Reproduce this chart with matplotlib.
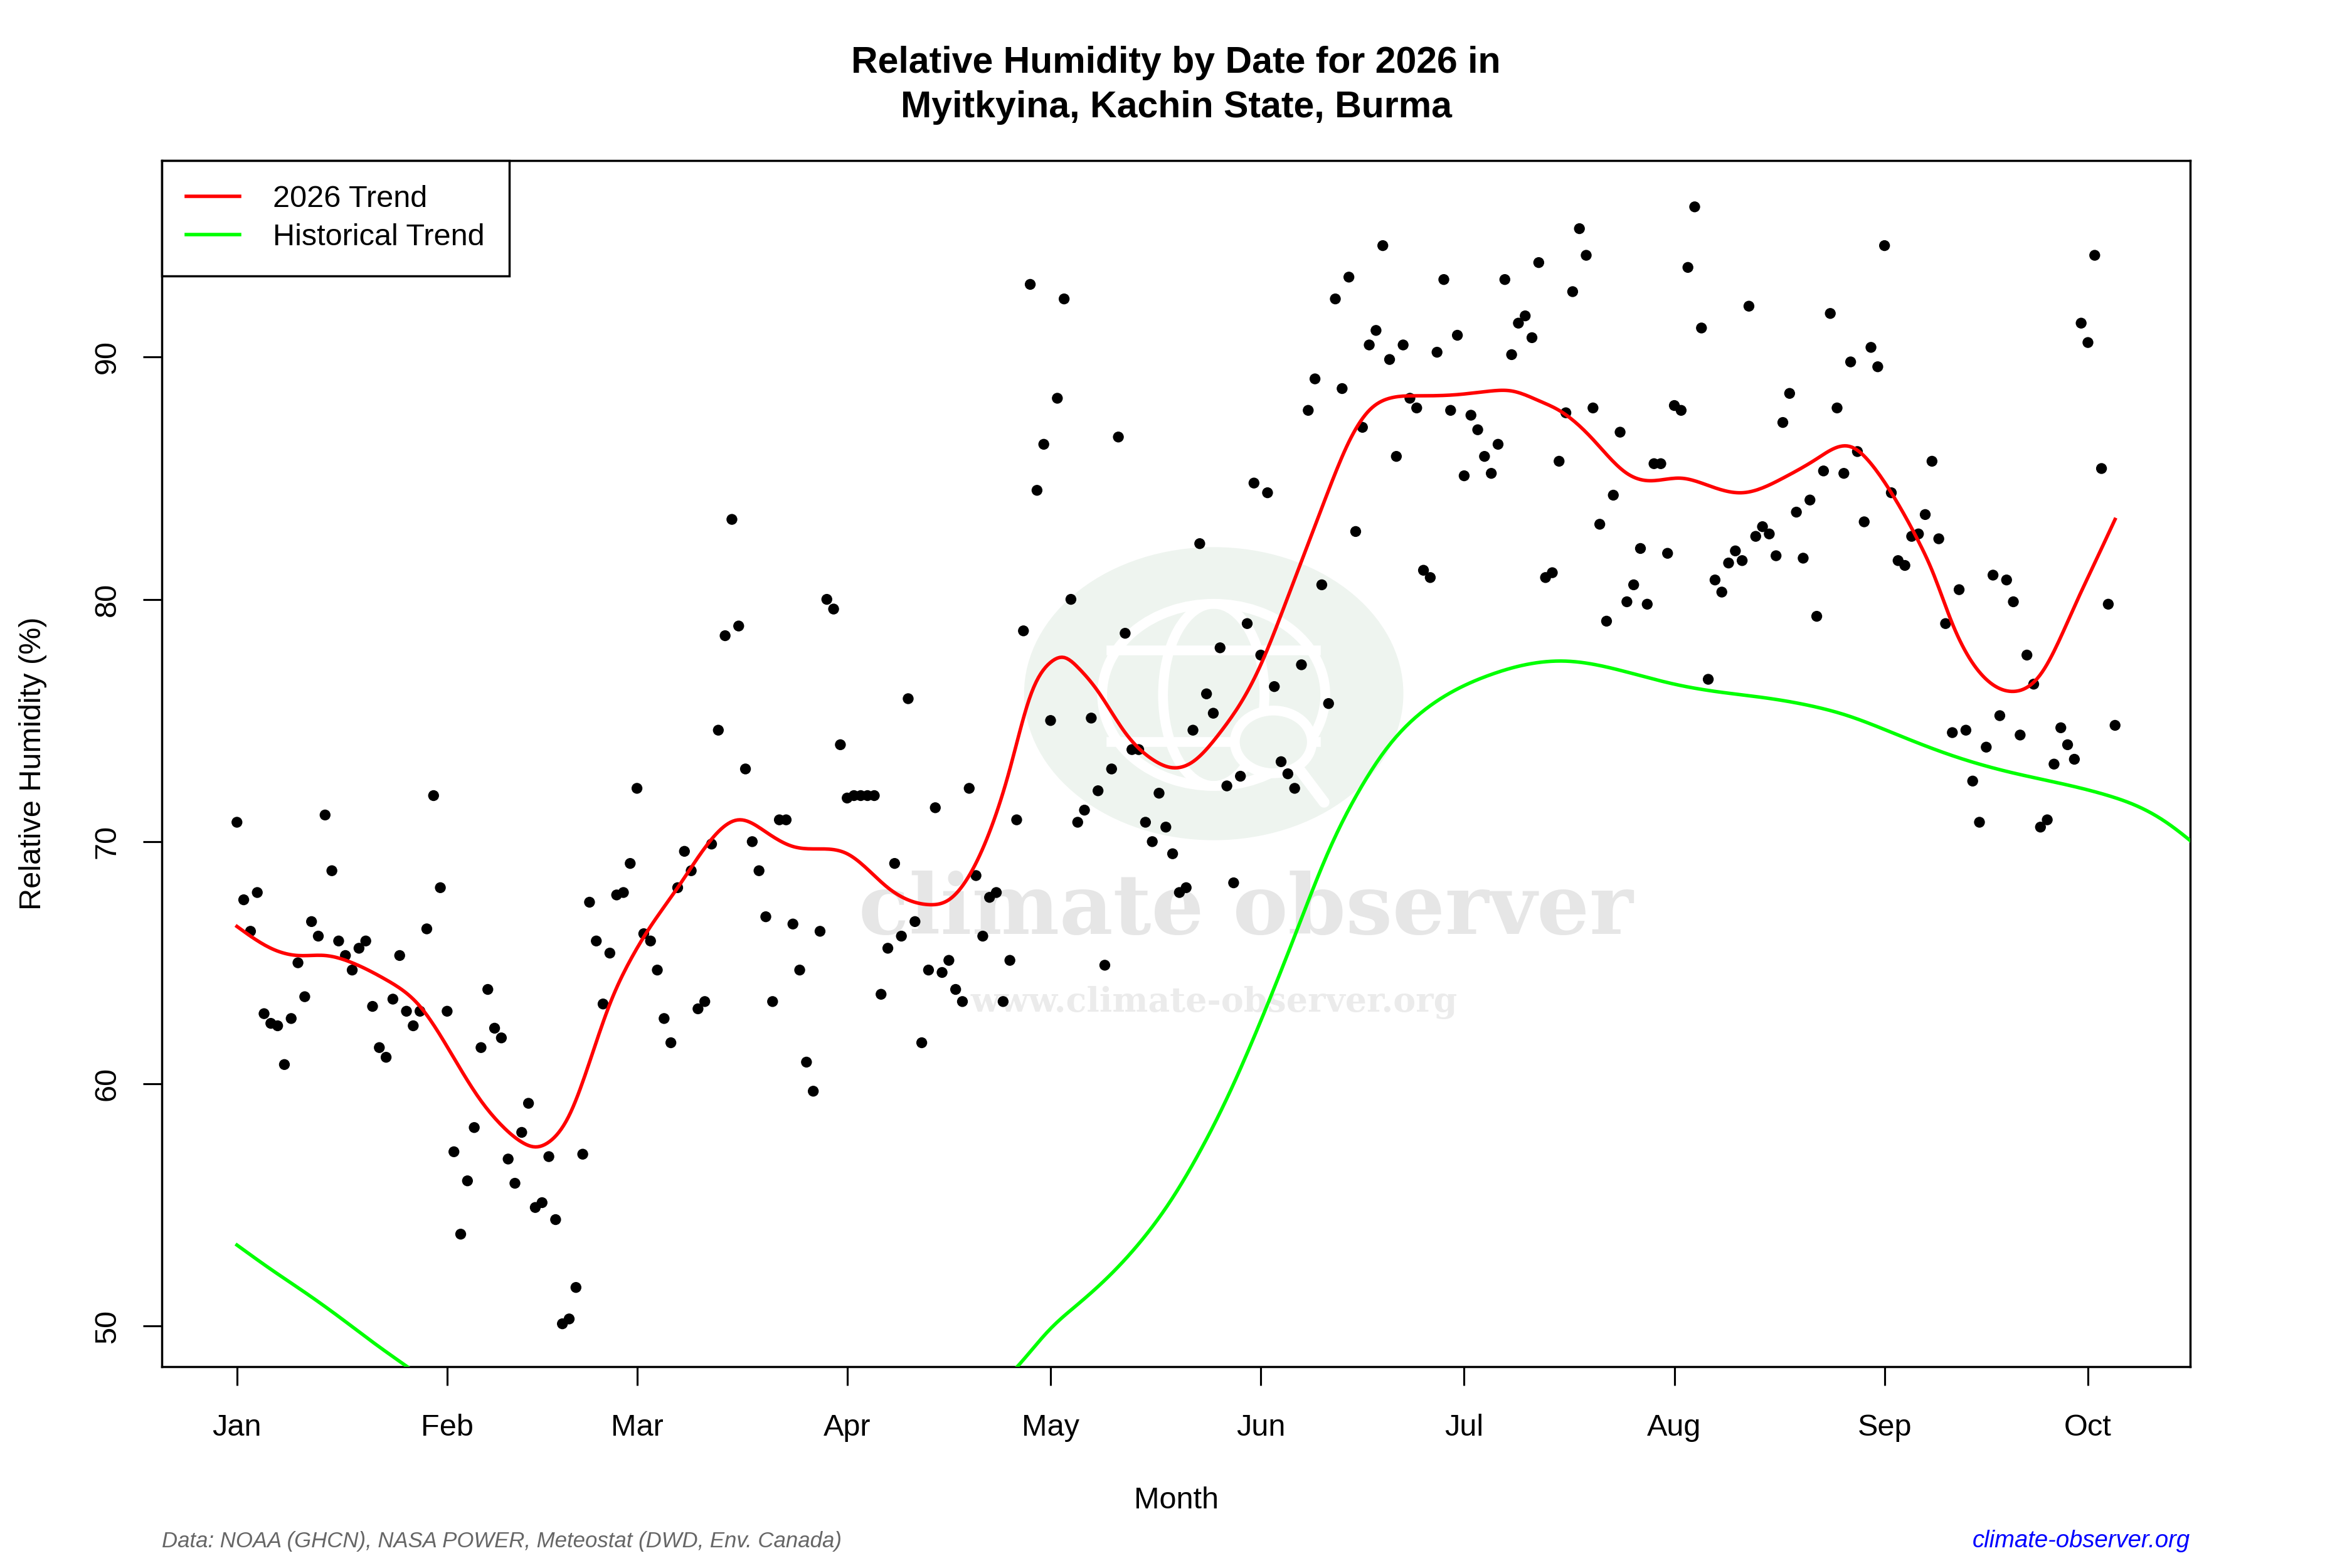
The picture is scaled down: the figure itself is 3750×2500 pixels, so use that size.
import numpy as np
import matplotlib
matplotlib.use("Agg")
import matplotlib.pyplot as plt
from matplotlib.patches import Ellipse

plt.rcParams['font.family'] = ['Liberation Sans', 'DejaVu Sans']

# daily relative humidity, day 0 = Jan 1 2026
rh = [
    70.8, 67.6, 66.3, 67.9, 62.9, 62.5, 62.4, 60.8, 62.7, 65.0,
    63.6, 66.7, 66.1, 71.1, 68.8, 65.9, 65.3, 64.7, 65.6, 65.9,
    63.2, 61.5, 61.1, 63.5, 65.3, 63.0, 62.4, 63.0, 66.4, 71.9,
    68.1, 63.0, 57.2, 53.8, 56.0, 58.2, 61.5, 63.9, 62.3, 61.9,
    56.9, 55.9, 58.0, 59.2, 54.9, 55.1, 57.0, 54.4, 50.1, 50.3,
    51.6, 57.1, 67.5, 65.9, 63.3, 65.4, 67.8, 67.9, 69.1, 72.2,
    66.2, 65.9, 64.7, 62.7, 61.7, 68.1, 69.6, 68.8, 63.1, 63.4,
    69.9, 74.6, 78.5, 83.3, 78.9, 73.0, 70.0, 68.8, 66.9, 63.4,
    70.9, 70.9, 66.6, 64.7, 60.9, 59.7, 66.3, 80.0, 79.6, 74.0,
    71.8, 71.9, 71.9, 71.9, 71.9, 63.7, 65.6, 69.1, 66.1, 75.9,
    66.7, 61.7, 64.7, 71.4, 64.6, 65.1, 63.9, 63.4, 72.2, 68.6,
    66.1, 67.7, 67.9, 63.4, 65.1, 70.9, 78.7, 93.0, 84.5, 86.4,
    75.0, 88.3, 92.4, 80.0, 70.8, 71.3, 75.1, 72.1, 64.9, 73.0,
    86.7, 78.6, 73.8, 73.8, 70.8, 70.0, 72.0, 70.6, 69.5, 67.9,
    68.1, 74.6, 82.3, 76.1, 75.3, 78.0, 72.3, 68.3, 72.7, 79.0,
    84.8, 77.7, 84.4, 76.4, 73.3, 72.8, 72.2, 77.3, 87.8, 89.1,
    80.6, 75.7, 92.4, 88.7, 93.3, 82.8, 87.1, 90.5, 91.1, 94.6,
    89.9, 85.9, 90.5, 88.3, 87.9, 81.2, 80.9, 90.2, 93.2, 87.8,
    90.9, 85.1, 87.6, 87.0, 85.9, 85.2, 86.4, 93.2, 90.1, 91.4,
    91.7, 90.8, 93.9, 80.9, 81.1, 85.7, 87.7, 92.7, 95.3, 94.2,
    87.9, 83.1, 79.1, 84.3, 86.9, 79.9, 80.6, 82.1, 79.8, 85.6,
    85.6, 81.9, 88.0, 87.8, 93.7, 96.2, 91.2, 76.7, 80.8, 80.3,
    81.5, 82.0, 81.6, 92.1, 82.6, 83.0, 82.7, 81.8, 87.3, 88.5,
    83.6, 81.7, 84.1, 79.3, 85.3, 91.8, 87.9, 85.2, 89.8, 86.1,
    83.2, 90.4, 89.6, 94.6, 84.4, 81.6, 81.4, 82.6, 82.7, 83.5,
    85.7, 82.5, 79.0, 74.5, 80.4, 74.6, 72.5, 70.8, 73.9, 81.0,
    75.2, 80.8, 79.9, 74.4, 77.7, 76.5, 70.6, 70.9, 73.2, 74.7,
    74.0, 73.4, 91.4, 90.6, 94.2, 85.4, 79.8, 74.8,
]
days = np.arange(len(rh))

# smoothed 2026 trend
trend_days = [0, 5, 9, 13, 17, 22, 27, 30, 33, 36, 39, 42, 44, 46, 49, 52, 55, 58, 61, 65,
              70, 74, 78, 82, 86, 90, 96, 102, 105, 108, 111, 114, 117, 120, 122, 124, 127,
              131, 135, 138, 141, 145, 148, 151, 155, 158, 161, 164, 167, 170, 174, 180, 185,
              188, 192, 195, 200, 205, 208, 213, 217, 222, 228, 233, 238, 241, 244, 248, 250,
              253, 258, 262, 266, 271, 274, 277]
trend_vals = [66.5, 65.6, 65.3, 65.3, 65.0, 64.3, 63.2, 62.0, 60.6, 59.3, 58.3, 57.6, 57.4,
              57.6, 58.7, 60.9, 63.3, 65.1, 66.5, 68.1, 70.1, 70.9, 70.4, 69.8, 69.7, 69.5,
              68.1, 67.4, 67.6, 68.6, 70.4, 73.0, 76.0, 77.4, 77.6, 77.2, 76.2, 74.5, 73.4,
              73.05, 73.3, 74.5, 75.7, 77.3, 80.1, 82.3, 84.5, 86.5, 87.8, 88.3, 88.4, 88.45,
              88.6, 88.6, 88.2, 87.8, 86.6, 85.2, 84.9, 85.0, 84.7, 84.4, 85.0, 85.8, 86.3,
              85.6, 84.4, 82.4, 81.2, 79.0, 76.7, 76.2, 76.9, 79.7, 81.5, 83.3]

# historical trend (part below 48 is off the chart)
hist_days = [0, 5, 10, 15, 20, 25, 30, 45, 70, 95, 108, 115, 120, 124, 128, 133, 138, 142,
             146, 151, 156, 161, 165.5, 170, 175, 180, 185, 190, 196, 205, 212, 218, 225,
             233, 237, 245, 253, 261, 269, 276, 280, 284, 290]
hist_vals = [53.35, 52.35, 51.4, 50.4, 49.35, 48.35, 47.4, 45.5, 44.5, 45.0, 46.6, 48.3,
             49.9, 50.9, 51.9, 53.4, 55.3, 57.2, 59.4, 62.6, 66.1, 69.6, 72.1, 74.0, 75.4,
             76.3, 76.9, 77.3, 77.45, 77.0, 76.5, 76.2, 75.95, 75.55, 75.25, 74.4, 73.55,
             72.9, 72.4, 71.9, 71.5, 70.9, 69.6]

month_days = [0, 31, 59, 90, 120, 151, 181, 212, 243, 273]
month_labels = ["Jan", "Feb", "Mar", "Apr", "May", "Jun", "Jul", "Aug", "Sep", "Oct"]


def smooth(x, y, n=800):
    # natural cubic spline through the read-off points
    x = np.asarray(x, float); y = np.asarray(y, float)
    h = np.diff(x); m = len(x)
    A = np.zeros((m, m)); r = np.zeros(m)
    A[0, 0] = A[-1, -1] = 1
    for i in range(1, m - 1):
        A[i, i-1] = h[i-1]; A[i, i] = 2*(h[i-1] + h[i]); A[i, i+1] = h[i]
        r[i] = 3*((y[i+1] - y[i])/h[i] - (y[i] - y[i-1])/h[i-1])
    c = np.linalg.solve(A, r)
    b = (y[1:] - y[:-1])/h - h*(2*c[:-1] + c[1:])/3
    d = (c[1:] - c[:-1])/(3*h)
    xs = np.linspace(x[0], x[-1], n)
    i = np.clip(np.searchsorted(x, xs) - 1, 0, m - 2)
    t = xs - x[i]
    return xs, y[i] + b[i]*t + c[i]*t**2 + d[i]*t**3


fig = plt.figure(figsize=(15, 10), dpi=250)
ax = fig.add_axes([0.0688, 0.1284, 0.8624, 0.7692])

# watermark
ax.add_patch(Ellipse((0.5186, 0.558), 0.187, 0.243, transform=ax.transAxes,
                     facecolor="#eef4ef", edgecolor="none", zorder=0))
ax.add_patch(Ellipse((0.5186, 0.557), 0.110, 0.151, transform=ax.transAxes,
                     facecolor="none", edgecolor="white", lw=4.5, zorder=0.5))
ax.add_patch(Ellipse((0.5186, 0.557), 0.050, 0.151, transform=ax.transAxes,
                     facecolor="none", edgecolor="white", lw=4.5, zorder=0.5))
ax.plot([0.468, 0.569], [0.594, 0.594], color="white", lw=4.5, transform=ax.transAxes, zorder=0.5)
ax.plot([0.468, 0.569], [0.518, 0.518], color="white", lw=4.5, transform=ax.transAxes, zorder=0.5)
ax.add_patch(Ellipse((0.548, 0.518), 0.038, 0.052, transform=ax.transAxes,
                     facecolor="#eef4ef", edgecolor="white", lw=4.5, zorder=0.6))
ax.plot([0.560, 0.573], [0.497, 0.468], color="white", lw=5, solid_capstyle="round",
        transform=ax.transAxes, zorder=0.6)
ax.text(0.5345, 0.378, "climate observer", transform=ax.transAxes, ha="center", va="center",
        fontsize=38, fontweight="bold", family="DejaVu Serif", color="#e6e6e6", zorder=0.7)
ax.text(0.5186, 0.302, "www.climate-observer.org", transform=ax.transAxes, ha="center",
        va="center", fontsize=15.5, fontweight="bold", family="DejaVu Serif", color="#ebebeb",
        zorder=0.7)

ax.scatter(days, rh, s=25, color="black", edgecolors="none", zorder=3)
tx, ty = smooth(trend_days, trend_vals)
ax.plot(tx, ty, color="#ff0000", lw=1.6, zorder=4, label="2026 Trend")
hx, hy = smooth(hist_days, hist_vals)
ax.plot(hx, hy, color="#00ff00", lw=1.6, zorder=4, label="Historical Trend")

ax.set_xlim(-11.08, 288.08)
ax.set_ylim(48.33, 98.11)
ax.set_xticks(month_days)
ax.set_xticklabels(month_labels)
ax.set_yticks([50, 60, 70, 80, 90])
ax.set_yticklabels(["50", "60", "70", "80", "90"], rotation=90, va="center")
ax.tick_params(axis="both", labelsize=14, length=8.5, width=0.9, direction="out")
ax.tick_params(axis="x", pad=13)
ax.tick_params(axis="y", pad=10)
for s in ax.spines.values():
    s.set_linewidth(1.0)

leg = ax.legend(loc="upper left", bbox_to_anchor=(0, 1), borderaxespad=0, fontsize=14,
                handlelength=1.75, handletextpad=1.1, borderpad=0.8, labelspacing=0.33,
                fancybox=False, framealpha=1, edgecolor="black")
leg.get_frame().set_linewidth(1.0)

fig.text(0.5, 0.9455, "Relative Humidity by Date for 2026 in\nMyitkyina, Kachin State, Burma",
         ha="center", va="center", fontsize=17, fontweight="bold", linespacing=1.38)
fig.text(0.5, 0.0431, "Month", ha="center", va="center", fontsize=14)
fig.text(0.014, 0.513, "Relative Humidity (%)", ha="center", va="center", rotation=90, fontsize=14)
fig.text(0.0689, 0.0172, "Data: NOAA (GHCN), NASA POWER, Meteostat (DWD, Env. Canada)",
         ha="left", va="center", fontsize=10, style="italic", color="#666666")
fig.text(0.9311, 0.0172, "climate-observer.org", ha="right", va="center", fontsize=11,
         style="italic", color="#0000ff")

fig.savefig("out.png", dpi=250)
